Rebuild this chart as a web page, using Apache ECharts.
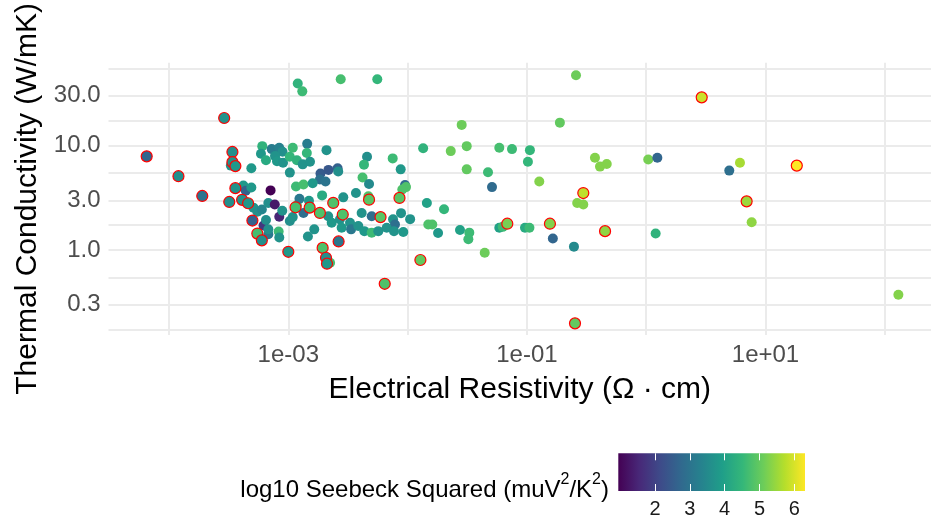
<!DOCTYPE html>
<html>
<head>
<meta charset="utf-8">
<title>Thermal conductivity vs electrical resistivity</title>
<script src="https://cdn.jsdelivr.net/npm/echarts@6/dist/echarts.min.js"></script>
<style>
  html, body { margin: 0; padding: 0; background: #ffffff; }
  #chart { width: 932px; height: 525px; }
</style>
</head>
<body>
<div id="chart"></div>
<script>
// Electrical resistivity (Ohm·cm) of each material
const resistivity = [
  6.5e-5, 1.2e-4, 1.9e-4, 2.9e-4, 3.4e-4, 3.4e-4, 3.3e-4, 3.6e-4, 4.9e-4, 3.6e-4,
  4.2e-4, 4.4e-4, 4.9e-4, 3.2e-4, 4.1e-4, 4.6e-4, 5.1e-4, 5.5e-4, 6.0e-4, 6.8e-4,
  7.1e-4, 7.7e-4, 8.4e-4, 5.0e-4, 6.2e-4, 5.5e-4, 6.0e-4, 6.8e-4, 8.3e-4, 8.4e-4,
  6.5e-4, 6.8e-4, 8.9e-4, 1.0e-3, 1.03e-3, 1.09e-3, 1.15e-3, 1.18e-3, 1.24e-3, 1.34e-3,
  1.49e-3, 1.51e-3, 1.46e-3, 1.65e-3, 1.84e-3, 2.38e-3, 1.92e-3, 1.94e-3, 2.07e-3, 2.11e-3,
  2.24e-3, 2.64e-3, 2.89e-3, 1.2e-3, 1.31e-3, 2.75e-3, 5.57e-3, 0.258, 6.05e-4, 5.9e-4,
  6.5e-4, 7.26e-4, 8.39e-4, 8.94e-4, 7.74e-4, 8.04e-4, 9.03e-4, 1.03e-3, 1.09e-3, 1.18e-3,
  1.32e-3, 1.03e-3, 1.44e-3, 1.43e-3, 1.52e-3, 2.09e-3, 1.86e-3, 2.17e-3, 2.59e-3, 2.62e-3,
  1.84e-3, 2.05e-3, 1.16e-3, 1.34e-3, 1.6e-3, 4.57e-3, 4.31e-3, 4.19e-3, 4.75e-3, 7.5e-3,
  8.75e-3, 9.51e-3, 9.7e-3, 9.03e-3, 3.69e-3, 4.69e-3, 4.75e-3, 8.55e-3, 0.0135, 0.023,
  0.0313, 0.0284, 0.0587, 0.075, 0.106, 0.102, 0.189, 0.372, 0.41, 0.467,
  0.0313, 0.0472, 0.127, 0.051, 0.297, 0.264, 0.297, 0.0145, 0.0202, 0.0149,
  0.0161, 0.018, 0.0275, 0.0329, 0.0323, 0.0443, 0.0587, 0.0627, 0.0685, 0.0964,
  0.105, 0.156, 0.165, 0.248, 0.452, 0.0128, 6.43e-3, 0.253, 2.92, 1.04,
  1.24, 4.97, 6.11, 18.3, 6.95, 7.66, 1.2, 130, 2.86e-3, 4.12e-3,
  5.0e-3, 5.93e-3, 7.55e-3, 8.81e-3, 0.0105, 7.84e-3, 2.16e-3, 2.31e-3, 2.71e-3, 2.8e-3,
  3.29e-3, 3.36e-3, 3.86e-3, 4.34e-3, 5.0e-3, 5.68e-3, 6.68e-3, 7.69e-3, 9.2e-3
];

// Thermal conductivity (W/mK)
const conductivity = [
  7.9, 5.1, 3.3, 18.4, 8.7, 6.95, 6.44, 6.37, 6.07, 3.92,
  4.16, 3.71, 3.98, 2.89, 3.03, 2.81, 2.55, 2.33, 2.45, 2.83,
  3.73, 2.73, 2.09, 1.92, 1.72, 1.44, 1.24, 1.42, 1.51, 1.32,
  1.94, 1.58, 2.38, 0.964, 1.90, 2.07, 2.57, 2.69, 3.10, 2.27,
  2.97, 2.55, 1.35, 1.58, 2.27, 2.83, 3.34, 1.05, 0.845, 0.741,
  0.758, 1.21, 3.20, 39.4, 33.1, 43.3, 43.3, 47.2, 9.89, 8.36,
  7.26, 9.27, 9.53, 8.73, 7.94, 7.10, 6.87, 7.83, 9.53, 7.26,
  6.62, 5.52, 10.4, 8.49, 7.02, 9.06, 5.41, 5.86, 6.07, 5.65,
  4.74, 4.54, 4.07, 4.25, 4.37, 7.83, 6.58, 4.95, 4.30, 7.55,
  5.93, 4.20, 4.01, 3.81, 3.52, 3.27, 3.04, 3.16, 9.46, 8.87,
  9.89, 15.8, 9.53, 9.27, 9.06, 7.02, 16.6, 7.66, 6.30, 6.68,
  5.93, 5.56, 4.54, 4.01, 3.52, 2.83, 2.73, 2.83, 2.46, 1.76,
  1.76, 1.46, 1.56, 1.47, 1.27, 0.942, 1.64, 1.67, 1.79, 1.64,
  1.64, 1.79, 1.29, 1.08, 1.52, 0.804, 0.476, 0.199, 29.0, 7.38,
  7.66, 5.77, 6.87, 6.44, 2.93, 1.85, 1.44, 0.374, 2.19, 2.27,
  2.11, 2.07, 1.97, 2.26, 1.98, 1.76, 2.11, 1.83, 1.97, 1.64,
  1.83, 1.58, 1.70, 1.52, 1.47, 1.52, 1.64, 1.52, 1.49
];

// log10 of the squared Seebeck coefficient (muV^2/K^2)
const seebeckLog = [
  2.7, 3.6, 3.0, 3.7, 3.6, 3.7, 3.7, 3.8, 3.8, 3.7,
  3.8, 2.6, 3.8, 3.6, 3.7, 3.8, 3.7, 3.6, 3.4, 3.6,
  0.95, 1.3, 1.5, 2.6, 1.8, 4.7, 3.6, 3.1, 4.6, 3.7,
  3.6, 3.6, 3.7, 3.8, 3.6, 3.7, 4.7, 4.6, 3.1, 2.9,
  3.8, 4.7, 3.7, 3.7, 4.8, 4.8, 4.2, 4.8, 3.6, 3.8,
  4.7, 3.1, 3.7, 4.4, 4.6, 4.7, 4.5, 5.1, 4.4, 3.8,
  4.2, 3.2, 3.3, 3.6, 3.7, 3.8, 3.7, 4.5, 4.6, 4.4,
  3.7, 3.7, 3.2, 4.5, 3.7, 3.7, 2.5, 2.4, 2.6, 3.6,
  2.9, 3.0, 4.6, 4.7, 3.8, 3.6, 4.5, 4.7, 3.5, 4.6,
  3.8, 2.8, 4.8, 4.8, 3.7, 4.8, 4.9, 4.9, 4.4, 5.1,
  5.0, 5.1, 4.7, 4.6, 4.5, 4.5, 5.0, 5.3, 5.3, 5.3,
  5.0, 4.6, 5.3, 2.8, 5.8, 5.3, 5.3, 4.0, 4.5, 4.8,
  4.8, 3.8, 4.0, 4.6, 4.6, 5.1, 4.0, 4.6, 5.2, 4.2,
  4.6, 5.3, 2.7, 3.5, 5.4, 5.0, 4.8, 5.0, 5.9, 5.2,
  2.7, 2.9, 5.6, 6.31, 5.5, 5.4, 4.4, 5.3, 4.8, 3.7,
  2.9, 4.9, 3.7, 3.7, 3.7, 2.9, 3.7, 3.8, 3.7, 3.8,
  3.7, 3.1, 3.7, 3.8, 4.6, 3.7, 3.7, 3.7, 3.8
];

// 1 = material outlined in red
const flagged = [
  1, 1, 1, 1, 1, 1, 0, 1, 0, 1,
  0, 0, 0, 1, 1, 1, 0, 0, 0, 0,
  0, 0, 0, 1, 0, 1, 1, 0, 0, 0,
  0, 0, 0, 1, 0, 0, 1, 0, 0, 0,
  0, 1, 0, 0, 1, 1, 0, 1, 1, 1,
  0, 1, 0, 0, 0, 0, 0, 0, 0, 0,
  0, 0, 0, 0, 0, 0, 0, 0, 0, 0,
  0, 0, 0, 0, 0, 0, 0, 0, 0, 0,
  0, 0, 0, 0, 0, 0, 0, 0, 0, 0,
  0, 0, 0, 0, 0, 0, 1, 1, 0, 0,
  0, 0, 0, 0, 0, 0, 0, 0, 0, 0,
  0, 0, 0, 0, 1, 0, 0, 0, 0, 0,
  0, 0, 0, 0, 0, 0, 0, 0, 1, 0,
  0, 1, 0, 0, 1, 1, 1, 1, 1, 0,
  0, 0, 0, 1, 1, 0, 0, 0, 1, 0,
  0, 1, 0, 0, 0, 0, 0, 0, 0, 0,
  0, 0, 0, 0, 0, 0, 0, 0, 0
];

// Axis breaks and ranges
const resistivityTicks = [1e-3, 1e-1, 1e1];
const resistivityGrid = [1e-4, 1e-3, 1e-2, 1e-1, 1, 10, 100];
const resistivityRange = [3.11e-5, 244];
const conductivityTicks = [0.3, 1, 3, 10, 30];
const conductivityBreaks = [0.1, 0.3, 1, 3, 10, 30, 100];
const conductivityRange = [0.154, 62.2];
const seebeckTicks = [2, 3, 4, 5, 6];
const seebeckRange = [0.946, 6.307];

const viridis = ['#440154', '#482878', '#3E4A89', '#31688E', '#26828E',
                 '#1F9E89', '#35B779', '#6DCD59', '#B4DE2C', '#FDE725'];

const FONT = '"Liberation Sans", Arial, Helvetica, sans-serif';
const log10 = Math.log10;

// major breaks plus geometric mid-points as minor grid lines
const conductivityGrid = conductivityBreaks.slice();
for (let i = 0; i < conductivityBreaks.length - 1; i++) {
  conductivityGrid.push(Math.sqrt(conductivityBreaks[i] * conductivityBreaks[i + 1]));
}

const plainPoints = [];
const flaggedPoints = [];
for (let i = 0; i < resistivity.length; i++) {
  const p = [log10(resistivity[i]), log10(conductivity[i]), seebeckLog[i]];
  (flagged[i] ? flaggedPoints : plainPoints).push(p);
}

function expLabel(v) {
  const e = Math.round(v);
  const a = Math.abs(e);
  return '1e' + (e < 0 ? '-' : '+') + (a < 10 ? '0' + a : '' + a);
}

const chart = echarts.init(document.getElementById('chart'), null, { renderer: 'canvas' });

const gridLine = { show: true, lineStyle: { color: '#ebebeb', width: 2 } };

chart.setOption({
  animation: false,
  backgroundColor: '#ffffff',
  textStyle: { fontFamily: FONT },
  grid: [
    { left: 108.5, right: 1, top: 60, bottom: 190, containLabel: false },
    {
      left: 618.3, width: 186.7, top: 453.3, height: 37.7, show: true, borderWidth: 0,
      backgroundColor: new echarts.graphic.LinearGradient(0, 0, 1, 0,
        viridis.map((c, i) => ({ offset: i / (viridis.length - 1), color: c })))
    }
  ],
  xAxis: [
    {
      type: 'value', gridIndex: 0,
      min: log10(resistivityRange[0]), max: log10(resistivityRange[1]),
      axisLine: { show: false },
      axisTick: { show: false, customValues: resistivityGrid.map(log10) },
      splitLine: gridLine,
      axisLabel: {
        customValues: resistivityTicks.map(log10),
        formatter: expLabel,
        fontSize: 24, color: '#4d4d4d', margin: 8, fontFamily: FONT
      },
      name: 'Electrical Resistivity (Ω · cm)',
      nameLocation: 'middle', nameGap: 40,
      nameTextStyle: { fontSize: 30, color: '#000000', fontFamily: FONT }
    },
    {
      type: 'value', gridIndex: 1, position: 'bottom',
      min: seebeckRange[0], max: seebeckRange[1],
      axisLine: { show: false },
      splitLine: { show: false },
      axisTick: { show: true, inside: true, length: 7, customValues: seebeckTicks,
                  lineStyle: { color: '#ffffff', width: 1 } },
      axisLabel: { customValues: seebeckTicks, fontSize: 20, color: '#1a1a1a',
                   margin: 8, fontFamily: FONT }
    },
    {
      type: 'value', gridIndex: 1, position: 'top',
      min: seebeckRange[0], max: seebeckRange[1],
      axisLine: { show: false },
      splitLine: { show: false },
      axisTick: { show: true, inside: true, length: 7, customValues: seebeckTicks,
                  lineStyle: { color: '#ffffff', width: 1 } },
      axisLabel: { show: false }
    }
  ],
  yAxis: [
    {
      type: 'value', gridIndex: 0,
      min: log10(conductivityRange[0]), max: log10(conductivityRange[1]),
      axisLine: { show: false },
      axisTick: { show: false, customValues: conductivityGrid.map(log10) },
      splitLine: gridLine,
      axisLabel: {
        customValues: conductivityTicks.map(log10),
        formatter: v => Math.pow(10, v).toFixed(1),
        fontSize: 24, color: '#4d4d4d', margin: 8, fontFamily: FONT
      },
      name: 'Thermal Conductivity (W/mK)',
      nameLocation: 'middle', nameGap: 66,
      nameTextStyle: { fontSize: 30, color: '#000000', fontFamily: FONT }
    },
    { type: 'value', gridIndex: 1, show: false, min: 0, max: 1 }
  ],
  visualMap: {
    type: 'continuous', show: false, dimension: 2, seriesIndex: [0, 1],
    min: seebeckRange[0], max: seebeckRange[1],
    inRange: { color: viridis }
  },
  series: [
    {
      type: 'scatter', xAxisIndex: 0, yAxisIndex: 0,
      symbolSize: 10, data: plainPoints,
      itemStyle: { opacity: 1 }
    },
    {
      type: 'scatter', xAxisIndex: 0, yAxisIndex: 0,
      symbolSize: 11, data: flaggedPoints,
      itemStyle: { opacity: 1, borderColor: '#ff0000', borderWidth: 1.2 }
    }
  ],
  graphic: [
    {
      type: 'text', x: 609, y: 487,
      style: {
        text: '{t|log10 Seebeck Squared (muV}{s|2}{t|/K}{s|2}{t|)}',
        align: 'right', verticalAlign: 'middle',
        fill: '#000000',
        rich: {
          t: { fontSize: 24, fontFamily: FONT, fill: '#000000', lineHeight: 30, verticalAlign: 'bottom' },
          s: { fontSize: 16, fontFamily: FONT, fill: '#000000', lineHeight: 16, verticalAlign: 'top' }
        }
      }
    }
  ]
});
</script>
</body>
</html>
